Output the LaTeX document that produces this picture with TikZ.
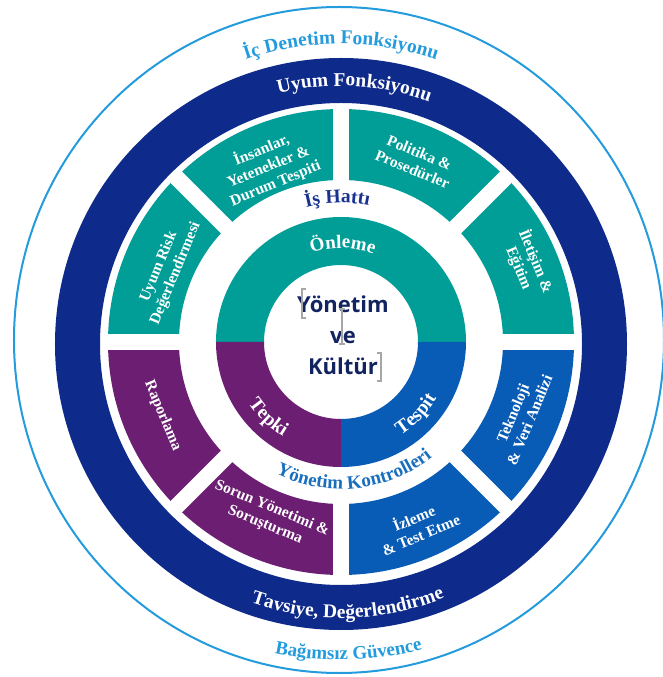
\documentclass[tikz,border=0pt]{standalone}
\usepackage{fontspec}
\setmainfont{Liberation Serif}
\newfontfamily\kulturfont{Open Sans}
\usetikzlibrary{decorations.text}

\definecolor{segteal}{RGB}{0,158,150}
\definecolor{segpurple}{RGB}{108,30,115}
\definecolor{segblue}{RGB}{8,92,182}
\definecolor{ringnavy}{RGB}{14,42,138}
\definecolor{skyline}{RGB}{35,155,220}
\definecolor{hatnavy}{RGB}{25,50,145}
\definecolor{kontrolblue}{RGB}{25,110,190}
\definecolor{kulturnavy}{RGB}{18,36,96}

\newcommand\arcbig{\fontsize{19.5}{21}\selectfont\bfseries}
\newcommand\arcmid{\fontsize{19}{21}\selectfont\bfseries}

\begin{document}
\begin{tikzpicture}[x=1pt,y=1pt]
\tikzstyle{boxlabel}=[text=white, font=\fontsize{15.5}{18}\selectfont\bfseries, align=center, inner sep=0pt]
\tikzstyle{kulturlabel}=[text=kulturnavy, font=\kulturfont\fontsize{22}{31}\selectfont\bfseries, align=center]
\tikzstyle{cursor}=[gray!70, line width=1.2]
\tikzset{arclabel/.style={decorate, decoration={text along path, text align=center, #1}}}

\useasboundingbox (-341,-335) rectangle (321,342);

% outer rings
\draw[skyline, line width=2] (-2,2) ellipse [x radius=325, y radius=333];
\fill[ringnavy, even odd rule] (0,-2) circle [radius=286] (0,-2) circle [radius=241];

% segment ring
\fill[segteal] (0:233) arc (0:180:233) -- (180:162) arc (180:0:162) -- cycle;
\fill[segpurple] (180:233) arc (180:270:233) -- (270:162) arc (270:180:162) -- cycle;
\fill[segblue] (270:233) arc (270:360:233) -- (360:162) arc (360:270:162) -- cycle;
\foreach \a in {0,45,...,315}
  \draw[white, line width=16] (\a:150) -- (\a:238);

% inner ring
\fill[segteal] (0:125) arc (0:180:125) -- (180:77) arc (180:0:77) -- cycle;
\fill[segpurple] (180:125) arc (180:270:125) -- (270:77) arc (270:180:77) -- cycle;
\fill[segblue] (270:125) arc (270:360:125) -- (360:77) arc (360:270:77) -- cycle;

\node[boxlabel, rotate=22.5]  (insanlar)  at (112.5:190)  {İnsanlar,\\Yetenekler \&\\Durum Tespiti};
\node[boxlabel, rotate=-22.5] (politika)  at (67.5:196)   {Politika \&\\Prosedürler};
\node[boxlabel, rotate=-67.5] (iletisim)  at (22.5:202)   {İletişim \&\\Eğitim};
\node[boxlabel, rotate=67.5]  (teknoloji) at (-22.5:195)  {Teknoloji\\\& Veri Analizi};
\node[boxlabel, rotate=22.5]  (izleme)    at (-67.5:199)  {İzleme\\\& Test Etme};
\node[boxlabel, rotate=-22.5] (sorun)     at (-112.5:189) {Sorun Yönetimi \&\\Soruşturma};
\node[boxlabel, rotate=-67.5] (raporlama) at (-157.5:193) {Raporlama};
\node[boxlabel, rotate=67.5]  (uyumrisk)  at (157.5:188)  {Uyum Risk\\Değerlendirmesi};

\path[arclabel={text={|\arcbig|İç Denetim Fonksiyonu}, text color=skyline}] (130:298) arc (130:50:298);
\path[arclabel={text={|\arcbig|Uyum Fonksiyonu}, text color=white}] (127:256) arc (127:47:256);
\path[arclabel={text={|\arcbig|İş Hattı}, text color=hatnavy}] (121.5:139) arc (121.5:61.5:139);
\path[arclabel={text={|\arcmid|Önleme}, text color=white}] (149:94) arc (149:29:94);
\path[arclabel={text={|\arcbig|Tepki}, text color=white}] (-164:111) arc (-164:-104:111);
\path[arclabel={text={|\arcbig|Tespit}, text color=white}] (-74:111) arc (-74:-14:111);
\path[arclabel={text={|\arcmid|Yönetim Kontrolleri}, text color=kontrolblue}] (-134:147) arc (-134:-34:147);
\path[arclabel={text={|\arcbig|Tavsiye, Değerlendirme}, text color=white}] (-138.5:276) arc (-138.5:-38.5:276);
\path[arclabel={text={|\arcmid|Bağımsız Güvence}, text color=skyline}] (-128.6:318) arc (-128.6:-48.6:318);

\node[kulturlabel] (kultur) at (2,7) {Yönetim\\ve\\Kültür};
\draw[cursor] (-35,53) -- (-39,53) -- (-39,24) -- (-35,24);
\draw[cursor] (-2,33) -- (4,33) (1,33) -- (1,-2) (-2,-2) -- (4,-2);
\draw[cursor] (36,-11) -- (40,-11) -- (40,-39) -- (36,-39);

\end{tikzpicture}
\end{document}
